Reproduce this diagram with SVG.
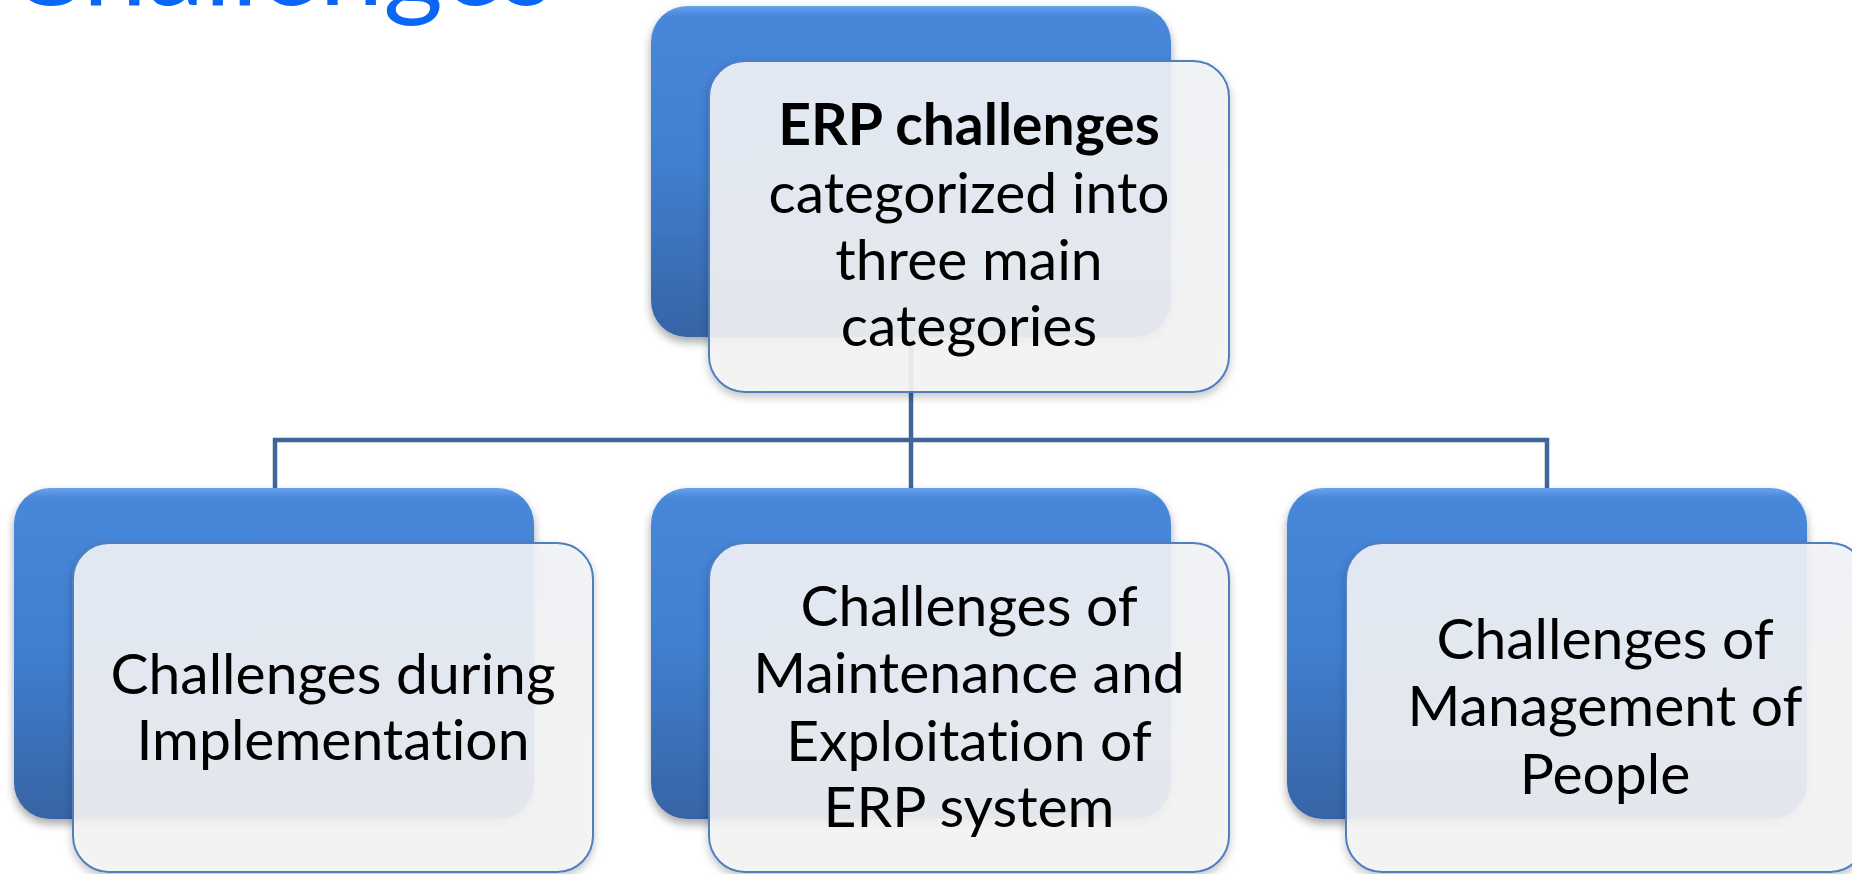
<svg xmlns="http://www.w3.org/2000/svg" width="1852" height="874" viewBox="0 0 1852 874">
<defs>
<linearGradient id="gBlue" x1="0" y1="0" x2="0" y2="1">
<stop offset="0" stop-color="#6AA3EE"/>
<stop offset="0.03" stop-color="#4787DA"/>
<stop offset="0.45" stop-color="#4080D2"/>
<stop offset="1" stop-color="#3764A4"/>
</linearGradient>
<linearGradient id="gFront" x1="0" y1="0" x2="0" y2="1">
<stop offset="0" stop-color="#F1F3F7"/>
<stop offset="1" stop-color="#F5F5F5"/>
</linearGradient>
<filter id="sh" x="-10%" y="-10%" width="120%" height="130%">
<feDropShadow dx="0" dy="5" stdDeviation="5" flood-color="#000" flood-opacity="0.35"/>
</filter>
<filter id="sh2" x="-10%" y="-10%" width="120%" height="130%">
<feDropShadow dx="0" dy="4" stdDeviation="4" flood-color="#000" flood-opacity="0.25"/>
</filter>
</defs>
<style>
.back{fill:url(#gBlue);filter:url(#sh);}
.front{fill:url(#gFront);fill-opacity:0.9;stroke:#4F7FBE;stroke-width:2;filter:url(#sh2);}
.t{font-family:Lato,"Open Sans","Liberation Sans",sans-serif;font-size:57px;fill:#000;text-anchor:middle;font-variant-ligatures:none;}
.b{font-weight:bold;}
.c{fill:none;stroke:#3F6699;stroke-width:4.5;}
.title{font-family:Lato,"Open Sans","Liberation Sans",sans-serif;font-size:115px;fill:#0A66F5;}
</style>
<rect width="1852" height="874" fill="#FFFFFF"/>
<text class="title" x="6" y="5">Challenges</text>
<g id="connectors">
<path class="c" d="M911 330 V440"/>
<path class="c" d="M273 440 H1549" stroke-width="6"/>
<path class="c" d="M275 438 V492 M911 440 V492 M1547 438 V492"/>
</g>
<g id="node-top">
<rect class="back" x="651" y="6" width="520" height="331" rx="36"/>
<rect class="front" x="709" y="61" width="520" height="331" rx="36"/>
<text class="t" x="969" y="145"><tspan class="b">ERP challenges</tspan><tspan x="969" y="213">categorized into</tspan><tspan x="969" y="280">three main</tspan><tspan x="969" y="346">categories</tspan></text>
</g>
<g id="node-implementation">
<rect class="back" x="14" y="488" width="520" height="331" rx="36"/>
<rect class="front" x="73" y="543" width="520" height="329" rx="36"/>
<text class="t" x="333" y="694">Challenges during<tspan x="333" y="760">Implementation</tspan></text>
</g>
<g id="node-maintenance">
<rect class="back" x="651" y="488" width="520" height="331" rx="36"/>
<rect class="front" x="709" y="543" width="520" height="329" rx="36"/>
<text class="t" x="969" y="626">Challenges of<tspan x="969" y="693">Maintenance and</tspan><tspan x="969" y="761">Exploitation of</tspan><tspan x="969" y="827">ERP system</tspan></text>
</g>
<g id="node-people">
<rect class="back" x="1287" y="488" width="520" height="331" rx="36"/>
<rect class="front" x="1346" y="543" width="520" height="329" rx="36"/>
<text class="t" x="1605" y="659">Challenges of<tspan x="1605" y="726">Management of</tspan><tspan x="1605" y="794">People</tspan></text>
</g>
</svg>
